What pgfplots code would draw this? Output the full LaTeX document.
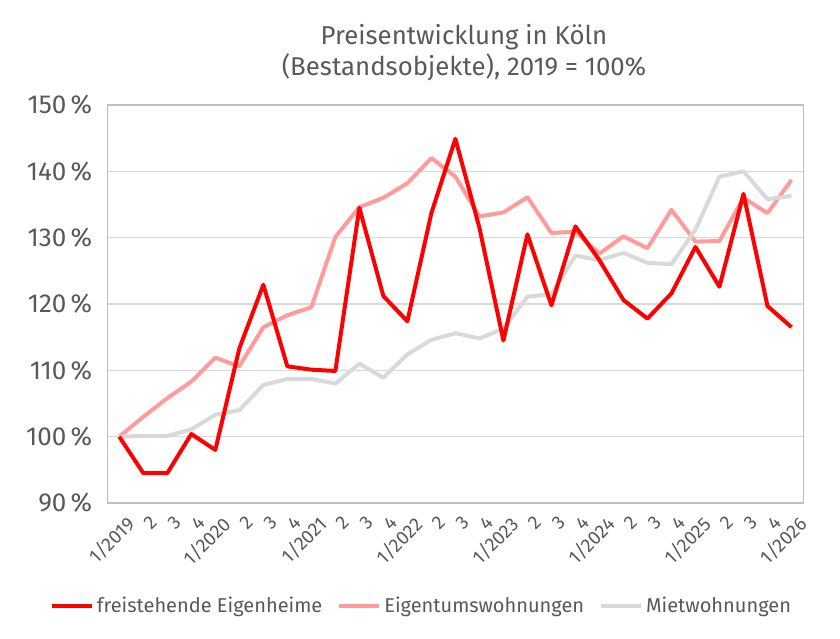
\documentclass[border=0pt]{standalone}
\usepackage{pgfplots}
\pgfplotsset{compat=1.18}
\usepackage{fontspec}
\setmainfont{Fira Sans}
\definecolor{txt}{HTML}{595959}
\definecolor{redl}{HTML}{FF0000}
\definecolor{pinkl}{HTML}{FF9B9B}
\definecolor{greyl}{HTML}{D9D9D9}
\definecolor{gridc}{HTML}{D9D9D9}
\definecolor{boxc}{HTML}{BFBFBF}
\begin{document}
\begin{tikzpicture}
\begin{axis}[
  scale only axis,
  width=348.1pt, height=199pt,
  xmin=-0.5, xmax=28.5,
  ymin=90, ymax=150,
  ytick={90,100,...,150},
  yticklabel={\pgfmathprintnumber{\tick}\,\%},
  /pgf/number format/assume math mode=true,
  xtick={0,...,28},
  xticklabels={1/2019,2,3,4,1/2020,2,3,4,1/2021,2,3,4,1/2022,2,3,4,1/2023,2,3,4,1/2024,2,3,4,1/2025,2,3,4,1/2026},
  x tick label style={rotate=45, anchor=north east, font=\fontsize{9.5}{11}\selectfont, text=txt, inner sep=1pt, xshift=-1pt, yshift=-5pt},
  y tick label style={font=\fontsize{13}{15}\selectfont, text=txt, xshift=-4pt},
  major tick length=0pt,
  ymajorgrids,
  grid style={gridc, line width=0.6pt},
  axis line style={boxc, line width=0.6pt},
  legend columns=3,
  legend style={draw=none, at={(0.452,-0.259)}, anchor=center, font=\fontsize{10}{12}\selectfont, text=txt, inner sep=0pt,
    nodes={inner sep=1.5pt},
    /tikz/every even column/.append style={column sep=6pt}},
  legend cell align=left,
  legend image code/.code={\draw[#1] (0cm,0cm) -- (20pt,0cm);},
  every axis plot/.append style={line width=2pt, line join=round},
]
\addplot[pinkl, forget plot] coordinates {
(0,100)(1,103.0)(2,105.8)(3,108.3)(4,111.9)(5,110.6)(6,116.5)(7,118.3)(8,119.5)(9,130.1)
(10,134.6)(11,136.0)(12,138.2)(13,142.0)(14,139.2)(15,133.2)(16,133.8)(17,136.1)(18,130.7)(19,130.9)
(20,127.6)(21,130.2)(22,128.4)(23,134.2)(24,129.4)(25,129.5)(26,136.0)(27,133.7)(28,138.7)};
\addplot[greyl, forget plot] coordinates {
(0,100)(1,100.1)(2,100.1)(3,101.1)(4,103.3)(5,104.0)(6,107.8)(7,108.7)(8,108.7)(9,108.0)
(10,111.0)(11,108.9)(12,112.4)(13,114.6)(14,115.6)(15,114.8)(16,116.3)(17,121.1)(18,121.5)(19,127.3)
(20,126.6)(21,127.7)(22,126.2)(23,126.0)(24,131.2)(25,139.2)(26,140.0)(27,135.8)(28,136.3)};
\addplot[redl, forget plot] coordinates {
(0,100)(1,94.5)(2,94.5)(3,100.4)(4,98.0)(5,113.3)(6,122.9)(7,110.6)(8,110.1)(9,109.9)
(10,134.5)(11,121.2)(12,117.4)(13,133.7)(14,144.9)(15,131.5)(16,114.5)(17,130.5)(18,119.8)(19,131.7)
(20,126.6)(21,120.6)(22,117.8)(23,121.6)(24,128.6)(25,122.6)(26,136.6)(27,119.7)(28,116.5)};
\addlegendimage{redl, line width=2pt}
\addlegendentry{freistehende Eigenheime}
\addlegendimage{pinkl, line width=2pt}
\addlegendentry{Eigentumswohnungen}
\addlegendimage{greyl, line width=2pt}
\addlegendentry{Mietwohnungen}
\end{axis}
\node[align=center, font=\fontsize{12.9}{15.5}\selectfont, text=txt] at (178.35pt,225pt) {Preisentwicklung in Köln\\(Bestandsobjekte), 2019 = 100\%};
\pgfresetboundingbox
\path[use as bounding box] (-53.65pt,-67.5pt) rectangle (366.35pt,251.5pt);
\end{tikzpicture}
\end{document}
